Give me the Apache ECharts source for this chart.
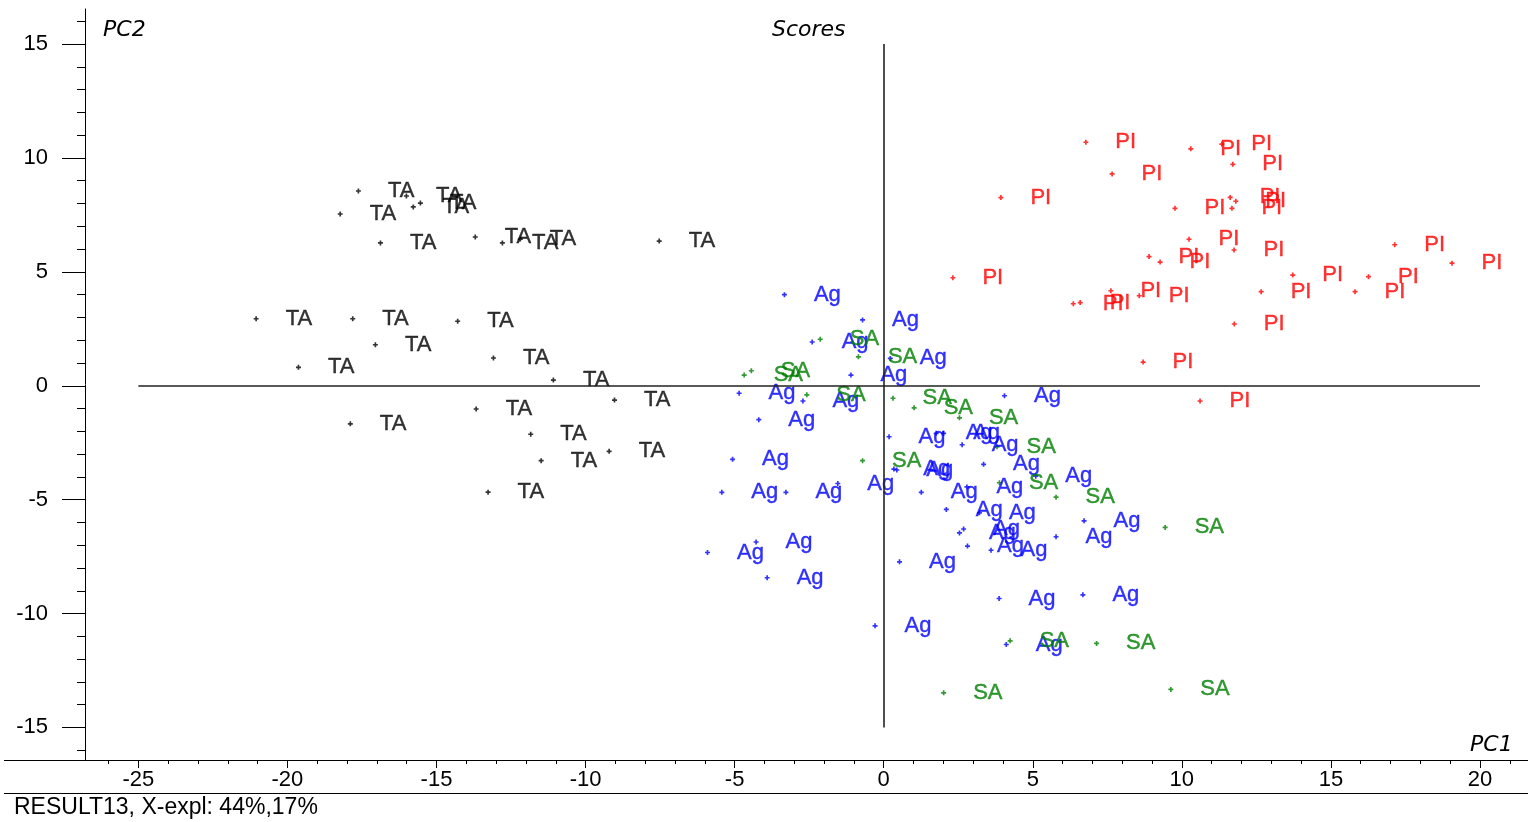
<!DOCTYPE html>
<html><head><meta charset="utf-8">
<script src="https://cdn.jsdelivr.net/npm/echarts@6/dist/echarts.min.js"></script>
<style>html,body{margin:0;padding:0;background:#fff}#c{width:1528px;height:822px}</style>
</head><body><div id="c"></div>
<script>
// ---- data ----
const groupNames = ['TA', 'Ag', 'SA', 'PI'];
const groupColors = ['#000000', '#0000ff', '#008000', '#ff0000'];

const taPoints = [
  [-17.62, 8.55], [-18.23, 7.54], [-16.01, 8.33], [-15.78, 7.85], [-15.54, 8.02],
  [-16.88, 6.27], [-13.70, 6.53], [-12.79, 6.27], [-12.19, 6.44], [-7.53, 6.35],
  [-21.05, 2.94], [-17.81, 2.94], [-14.29, 2.83], [-17.05, 1.80], [-19.63, 0.81],
  [-13.09, 1.22], [-11.08, 0.25], [-9.03, -0.63], [-13.67, -1.02], [-17.89, -1.67],
  [-11.84, -2.13], [-9.21, -2.88], [-11.49, -3.29], [-13.27, -4.67]
];
const agPoints = [
  [-3.33, 4.00], [-0.71, 2.89], [-2.40, 1.92], [-1.10, 0.47], [0.22, 1.20],
  [-4.85, -0.33], [-2.71, -0.67], [-4.19, -1.49], [0.18, -2.24], [2.63, -2.59],
  [1.76, -2.09], [2.01, -2.09], [4.05, -0.44], [3.35, -3.45], [2.79, -4.44],
  [5.10, -3.97], [6.72, -5.93], [5.78, -6.63], [0.34, -3.66], [0.44, -3.70],
  [-5.07, -3.23], [-5.43, -4.68], [-3.28, -4.68], [-1.54, -4.29], [1.26, -4.68],
  [2.10, -5.43], [3.21, -5.58], [2.68, -6.29], [2.54, -6.46], [2.81, -7.04],
  [3.60, -7.22], [0.53, -7.73], [-5.91, -7.32], [-4.28, -6.86], [-3.91, -8.43],
  [3.87, -9.34], [6.68, -9.18], [-0.29, -10.54], [4.11, -11.36]
];
const saPoints = [
  [-4.68, 0.47], [-4.44, 0.66], [-2.13, 2.04], [-0.85, 1.27], [-2.58, -0.40],
  [0.31, -0.55], [1.02, -0.97], [2.54, -1.41], [3.80, -2.68], [-0.71, -3.29],
  [3.88, -4.26], [5.78, -4.89], [9.44, -6.22], [4.24, -11.20], [7.14, -11.31],
  [2.01, -13.48], [9.63, -13.33]
];
const piPoints = [
  [6.78, 10.69], [10.30, 10.40], [11.34, 10.61], [11.71, 9.72], [7.66, 9.30],
  [3.93, 8.26], [11.62, 8.27], [11.81, 8.10], [11.68, 7.79], [9.77, 7.79],
  [10.24, 6.43], [11.75, 5.96], [8.90, 5.67], [9.27, 5.43], [2.32, 4.74],
  [6.36, 3.60], [6.59, 3.65], [7.62, 4.17], [8.57, 3.95], [12.66, 4.13],
  [13.72, 4.86], [15.81, 4.13], [16.26, 4.79], [17.14, 6.19], [19.06, 5.38],
  [11.76, 2.71], [8.70, 1.04], [10.61, -0.67]
];

const xMajorTicks = [-25, -20, -15, -10, -5, 0, 5, 10, 15, 20];
const yMajorTicks = [-15, -10, -5, 0, 5, 10, 15];
const xMinorTicks = [-26,-25,-24,-23,-22,-21,-20,-19,-18,-17,-16,-15,-14,-13,-12,-11,-10,-9,-8,-7,-6,-5,-4,-3,-2,-1,0,1,2,3,4,5,6,7,8,9,10,11,12,13,14,15,16,17,18,19,20,21];
const yMinorTicks = [-16,-15,-14,-13,-12,-11,-10,-9,-8,-7,-6,-5,-4,-3,-2,-1,0,1,2,3,4,5,6,7,8,9,10,11,12,13,14,15,16];
const zeroLineX = [-25, 20];
const zeroLineY = [-15, 15];

const chartTitle = 'Scores';
const xName = 'PC1';
const yName = 'PC2';
const footer = 'RESULT13, X-expl: 44%,17%';

// ---- chart ----
const FONT = '"Liberation Sans", Arial, sans-serif';
const xRange = { min: -26.79, max: 21.61 };
const yRange = { min: -16.43, max: 16.54 };
const gridBox = { left: 85, top: 9, width: 1443, height: 751 };
const plus = 'path://M1,0H2V1H3V2H2V3H1V2H0V1H1Z';

const allGroups = [taPoints, agPoints, saPoints, piPoints];
const series = allGroups.map((pts, i) => ({
  type: 'scatter',
  name: groupNames[i],
  data: pts,
  xAxisIndex: 0, yAxisIndex: 0,
  symbol: plus, symbolSize: 5,
  itemStyle: { color: groupColors[i] },
  label: {
    show: true, position: 'right', distance: 27,
    formatter: groupNames[i], color: groupColors[i],
    textBorderColor: groupColors[i], textBorderWidth: 0.4,
    fontFamily: FONT, fontSize: 22
  },
  emphasis: { disabled: true },
  silent: true,
  animation: false
}));
series[0].markLine = {
  silent: true, symbol: ['none', 'none'], animation: false,
  label: { show: false },
  lineStyle: { color: '#222', width: 1.6, type: 'solid' },
  data: [
    [{ coord: [0, zeroLineY[1]] }, { coord: [0, zeroLineY[0]] }],
    [{ coord: [zeroLineX[0], 0] }, { coord: [zeroLineX[1], 0] }]
  ]
};

const axisLbl = { color: '#000', fontFamily: FONT, fontSize: 22 };

const option = {
  backgroundColor: '#fff',
  animation: false,
  grid: [Object.assign({}, gridBox), Object.assign({}, gridBox)],
  xAxis: [
    { gridIndex: 0, type: 'value', min: xRange.min, max: xRange.max,
      axisLine: { show: true, onZero: false, lineStyle: { color: '#000', width: 1 } },
      axisTick: { show: true, customValues: xMinorTicks, length: 4, lineStyle: { color: '#000' } },
      axisLabel: { show: false }, splitLine: { show: false } },
    { gridIndex: 1, type: 'value', min: xRange.min, max: xRange.max,
      axisLine: { show: false, onZero: false },
      axisTick: { show: true, customValues: xMajorTicks, length: 8, lineStyle: { color: '#000' } },
      axisLabel: Object.assign({ customValues: xMajorTicks, margin: 9 }, axisLbl),
      splitLine: { show: false } }
  ],
  yAxis: [
    { gridIndex: 0, type: 'value', min: yRange.min, max: yRange.max,
      axisLine: { show: true, onZero: false, lineStyle: { color: '#000', width: 1 } },
      axisTick: { show: true, customValues: yMinorTicks, length: 8, lineStyle: { color: '#000' } },
      axisLabel: { show: false }, splitLine: { show: false } },
    { gridIndex: 1, type: 'value', min: yRange.min, max: yRange.max,
      axisLine: { show: false, onZero: false },
      axisTick: { show: true, customValues: yMajorTicks, length: 23, lineStyle: { color: '#000' } },
      axisLabel: Object.assign({ customValues: yMajorTicks, margin: 37 }, axisLbl),
      splitLine: { show: false } }
  ],
  series: series,
  graphic: [
    { type: 'line', silent: true, shape: { x1: 4, y1: 760.5, x2: 1528, y2: 760.5 }, style: { stroke: '#000', lineWidth: 1 } },
    { type: 'line', silent: true, shape: { x1: 4, y1: 793.5, x2: 1528, y2: 793.5 }, style: { stroke: '#000', lineWidth: 1 } },
    { type: 'text', silent: true, left: 103, top: 19, style: { text: yName, font: 'italic 22px "DejaVu Sans", sans-serif', fill: '#000' } },
    { type: 'text', silent: true, left: 772, top: 19, style: { text: chartTitle, font: 'italic 22px "DejaVu Sans", sans-serif', fill: '#000' } },
    { type: 'text', silent: true, left: 1470, top: 734, style: { text: xName, font: 'italic 22px "DejaVu Sans", sans-serif', fill: '#000' } },
    { type: 'text', silent: true, left: 14, top: 796, style: { text: footer, font: '23px "Liberation Sans", Arial, sans-serif', fill: '#000' } }
  ]
};

const chart = echarts.init(document.getElementById('c'), null, { renderer: 'canvas' });
chart.setOption(option);
</script>
</body></html>
